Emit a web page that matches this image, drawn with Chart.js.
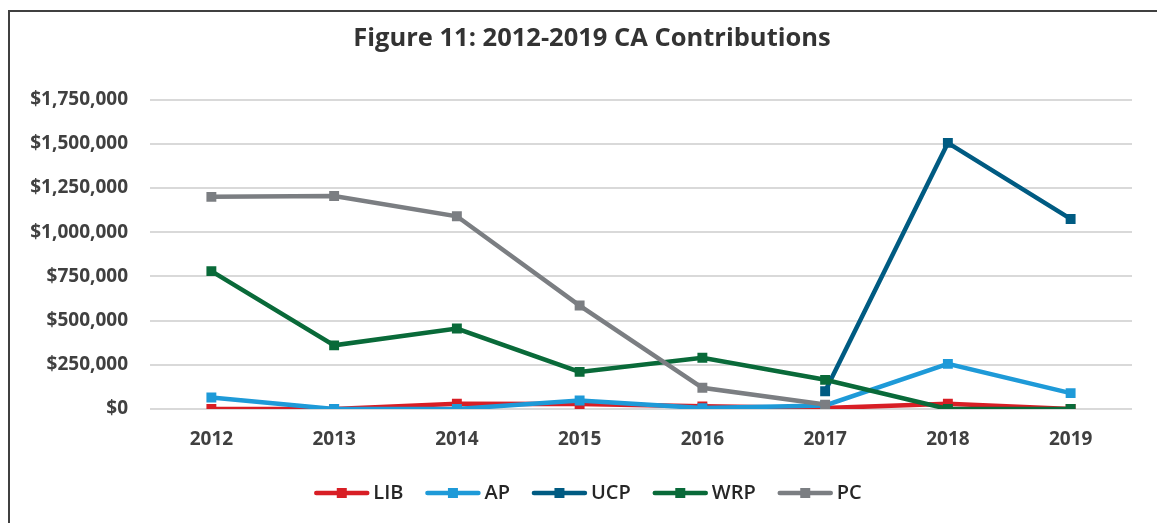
<!DOCTYPE html>
<html lang="en">
<head>
  <meta charset="UTF-8" />
  <title>Figure 11: 2012-2019 CA Contributions</title>
  <script src="https://cdn.jsdelivr.net/npm/chart.js"></script>
  <style>
    body {
      margin: 0;
      background: white;
    }
    .frame {
      position: absolute;
      left: 8px;
      top: 10px;
      width: 1170px;
      height: 540px;
      border: 2px solid #404040;
    }
    #chart {
      position: absolute;
      left: 0;
      top: 0;
    }
  </style>
</head>
<body>

<div class="frame"></div>
<canvas id="chart" width="1157" height="523"></canvas>

<script>
  const years = ["2012", "2013", "2014", "2015", "2016", "2017", "2018", "2019"];

  const lib = [0, 0, 30000, 28000, 15000, 5000, 30000, 0];
  const ap  = [65000, 0, 0, 48000, 5000, 20000, 255000, 90000];
  const ucp = [null, null, null, null, null, 100000, 1505000, 1075000];
  const wrp = [780000, 360000, 455000, 210000, 290000, 165000, 0, 0];
  const pc  = [1200000, 1205000, 1090000, 585000, 120000, 25000, null, null];

  const yMax = 1750000;
  const yStep = 250000;

  const font = "'Open Sans', 'Noto Sans', sans-serif";

  function series(label, data, color, order) {
    return {
      label: label,
      data: data,
      borderColor: color,
      backgroundColor: color,
      borderWidth: 4.5,
      pointStyle: "rect",
      pointRadius: 7,
      pointBorderWidth: 0,
      pointHoverRadius: 7,
      tension: 0,
      spanGaps: false,
      order: order
    };
  }

  // title and legend are centred on the whole frame, not on the plot
  const shiftBoxes = {
    id: "shiftBoxes",
    afterLayout(chart) {
      chart.titleBlock.left += 22;
      chart.titleBlock.right += 22;
      chart.legend.left += 18;
      chart.legend.right += 18;
    }
  };

  // legend keys: a short line with the square marker, drawn by hand
  const legendMarkers = {
    id: "legendMarkers",
    afterDraw(chart) {
      const lg = chart.legend;
      const ctx = chart.ctx;
      ctx.save();
      lg.legendHitBoxes.forEach((hb, i) => {
        const ds = chart.data.datasets[lg.legendItems[i].datasetIndex];
        const cy = hb.top + hb.height / 2;
        ctx.strokeStyle = ds.borderColor;
        ctx.lineWidth = 4.5;
        ctx.lineCap = "round";
        ctx.beginPath();
        ctx.moveTo(hb.left + 2, cy);
        ctx.lineTo(hb.left + 53, cy);
        ctx.stroke();
        ctx.fillStyle = ds.borderColor;
        ctx.fillRect(hb.left + 27.5 - 5, cy - 5, 10, 10);
      });
      ctx.restore();
    }
  };

  new Chart(document.getElementById("chart"), {
    type: "line",
    data: {
      labels: years,
      datasets: [
        series("LIB", lib, "#d81e25", 5),
        series("AP", ap, "#1e9ad8", 4),
        series("UCP", ucp, "#005b82", 3),
        series("WRP", wrp, "#096a39", 2),
        series("PC", pc, "#7b7e82", 1)
      ]
    },
    options: {
      responsive: false,
      devicePixelRatio: 1,
      animation: false,
      layout: {
        padding: { left: 8, right: 25, top: 0, bottom: 10 }
      },
      scales: {
        x: {
          offset: true,
          grid: { display: false },
          border: { display: false },
          ticks: {
            padding: 11,
            color: "#404040",
            font: { family: font, size: 19, weight: "bold" }
          },
          afterFit: s => { s.height = 52; }
        },
        y: {
          min: 0,
          max: yMax,
          grid: { color: "#d9d9d9", lineWidth: 2, drawTicks: false },
          border: { display: false },
          ticks: {
            stepSize: yStep,
            padding: 22,
            color: "#404040",
            font: { family: font, size: 19, weight: "bold" },
            callback: v => "$" + v.toLocaleString("en-US")
          },
          afterFit: s => { s.width = 142; }
        }
      },
      plugins: {
        title: {
          display: true,
          text: "Figure 11: 2012-2019 CA Contributions",
          color: "#333333",
          font: { family: font, size: 25.5, weight: "bold" },
          padding: { top: 23, bottom: 46 }
        },
        legend: {
          position: "bottom",
          labels: {
            boxWidth: 49,
            boxHeight: 10,
            padding: 22,
            color: "#262626",
            font: { family: font, size: 20, weight: "600" },
            sort: (a, b) => a.datasetIndex - b.datasetIndex,
            generateLabels(chart) {
              const items = Chart.defaults.plugins.legend.labels.generateLabels(chart);
              items.forEach(it => {
                it.fillStyle = "rgba(0,0,0,0)";
                it.strokeStyle = "rgba(0,0,0,0)";
                it.lineWidth = 0;
              });
              return items;
            }
          }
        },
        tooltip: { enabled: false }
      }
    },
    plugins: [shiftBoxes, legendMarkers]
  });
</script>

</body>
</html>
